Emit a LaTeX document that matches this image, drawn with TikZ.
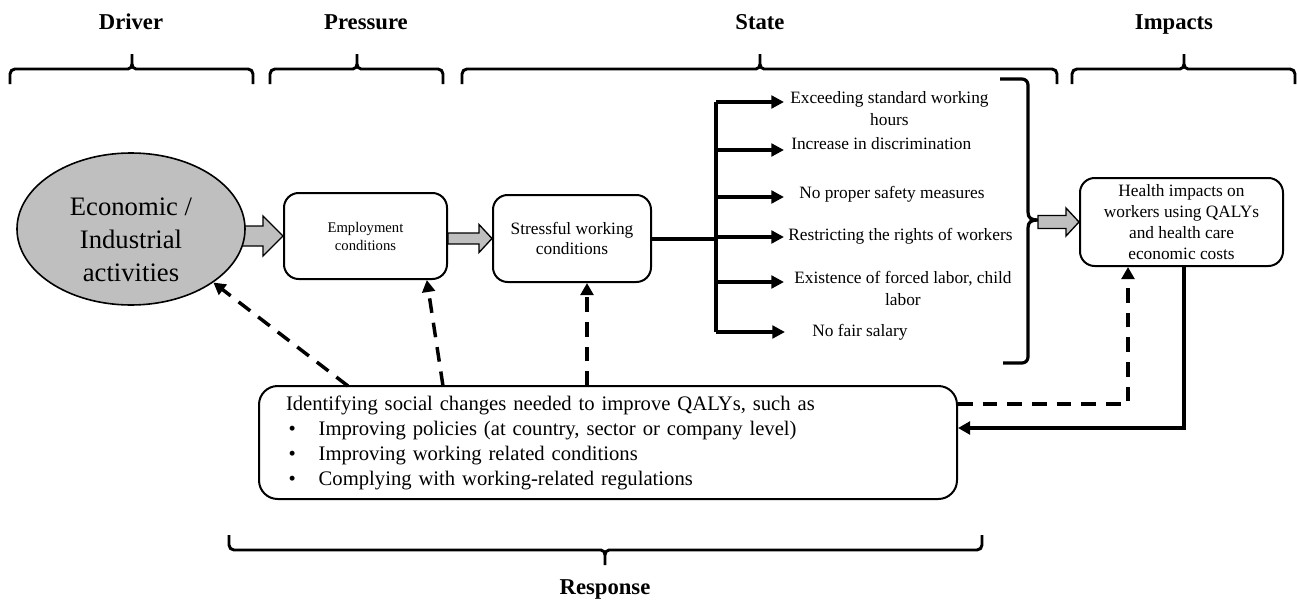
\documentclass[tikz,border=0pt]{standalone}
\usepackage{fontspec}
\setmainfont{Liberation Serif}
\usetikzlibrary{arrows.meta,shapes.geometric,calc,backgrounds}
\definecolor{blockgray}{HTML}{BFBFBF}

% gray block arrow: from, to, shaft half-height, head half-height, head length
\newcommand{\blockarrow}[5]{%
  \path[grayarr] let \p1=(#1), \p2=(#2) in
    (\x1,\y2+#3) -- (\x2-#5,\y2+#3) -- (\x2-#5,\y2+#4) -- (\x2,\y2)
    -- (\x2-#5,\y2-#4) -- (\x2-#5,\y2-#3) -- (\x1,\y2-#3) -- cycle;}
% brace opening downwards: left x, middle x, right x (ends at y=84, tip at y=54)
\newcommand{\topbrace}[3]{%
  \draw[bracestyle] (#1,84) -- (#1,74) to[out=90,in=180] ({#1+5},69)
    -- ({#2-4},69) to[out=0,in=-90] (#2,64) -- (#2,54)
    (#2,54) -- (#2,64) to[out=-90,in=180] ({#2+4},69)
    -- ({#3-5},69) to[out=0,in=90] (#3,74) -- (#3,84);}
% brace opening upwards: ends at y=535, tip at y=565
\newcommand{\bottombrace}[3]{%
  \draw[bracestyle] (#1,535) -- (#1,545) to[out=-90,in=180] ({#1+5},550)
    -- ({#2-4},550) to[out=0,in=90] (#2,555) -- (#2,565)
    (#2,565) -- (#2,555) to[out=90,in=180] ({#2+4},550)
    -- ({#3-5},550) to[out=0,in=-90] (#3,545) -- (#3,535);}
\newcommand{\bul}{\makebox[24.5pt][l]{\hspace{2pt}\textbullet}}

\begin{document}
\begin{tikzpicture}[x=0.75pt,y=-0.75pt,
  heading/.style={font=\fontsize{17}{20}\selectfont\bfseries,anchor=base},
  bracestyle/.style={line width=2.2pt},
  roundbox/.style={draw,line width=1.5pt,rounded corners=11pt,align=center,inner sep=2pt,fill=white},
  statetext/.style={font=\fontsize{13}{16.5}\selectfont,anchor=west,align=center,inner sep=0pt},
  busline/.style={line width=3pt},
  branch/.style={line width=3pt,-{Triangle[length=9.5pt,width=9.5pt]}},
  feedback/.style={line width=2.6pt,dash pattern=on 11pt off 7.5pt,-{Triangle[length=9pt,width=9.5pt]}},
  returnline/.style={line width=2.6pt,-{Triangle[length=9pt,width=9.5pt]}},
  grayarr/.style={draw,line width=1pt,fill=blockgray,line join=miter}
]
\useasboundingbox (0,0) rectangle (1297,603);

% ---- column headings and their braces ----
\node[heading] (hdriver) at (131,29) {Driver};
\node[heading] (hpressure) at (366,29) {Pressure};
\node[heading] (hstate) at (760,29) {State};
\node[heading] (himpacts) at (1174,29) {Impacts};
\node[heading] (hresponse) at (605,594) {Response};

\topbrace{10}{132}{253}
\topbrace{270}{357}{443}
\topbrace{462}{760}{1057}
\topbrace{1072}{1184}{1295}
\bottombrace{229}{605}{982}

% ---- main chain ----
\node[ellipse,draw,line width=1.2pt,fill=blockgray,minimum width=171pt,minimum height=114pt,inner sep=0pt] (eco) at (131,229) {};
\node[font=\fontsize{20}{24.75}\selectfont,align=center,yshift=-8.25pt] (ecolabel) at (eco.center) {Economic /\\Industrial\\activities};

\node[roundbox,minimum width=122.25pt,minimum height=64.5pt,font=\fontsize{11}{13.5}\selectfont] (emp) at (365.5,236) {Employment\\conditions};
\node[roundbox,minimum width=118.5pt,minimum height=65.25pt,font=\fontsize{13}{15}\selectfont] (stress) at (572,238.5) {Stressful working\\conditions};
\node[roundbox,minimum width=152.25pt,minimum height=66pt,font=\fontsize{13}{15.75}\selectfont] (imp) at (1181.5,222) {Health impacts on\\workers using QALYs\\and health care\\economic costs};

\begin{scope}[on background layer]
  \blockarrow{eco.center}{emp.west}{7.5pt}{15pt}{15pt}
\end{scope}
\blockarrow{emp.east}{stress.west}{4.1pt}{10.5pt}{9.75pt}

% ---- states ----
\node[statetext] (s1) at (790,109) {Exceeding standard working\\hours};
\node[statetext] (s2) at (791,144) {Increase in discrimination};
\node[statetext] (s3) at (799,194) {No proper safety measures};
\node[statetext] (s4) at (788,236) {Restricting the rights of workers};
\node[statetext] (s5) at (794,288.5) {Existence of forced labor, child\\labor};
\node[statetext] (s6) at (812,332) {No fair salary};

\coordinate (bustop) at (716,102);
\coordinate (busbot) at (716,332);
\coordinate (b1) at (784,102);
\coordinate (b2) at (784,150);
\coordinate (b3) at (784,197);
\coordinate (b4) at (784,237);
\coordinate (b5) at (784,282);
\coordinate (b6) at (785,332);

\draw[busline] (stress.east) -- (stress.east -| bustop);
\draw[busline] (bustop) -- (busbot);
\foreach \b in {b1,b2,b3,b4,b5,b6}
  \draw[branch] (\b -| bustop) -- (\b);

% closing bracket gathering the states
\coordinate (cusp) at (1038,220);
\draw[line width=2.4pt,line cap=butt]
  (1000,79) -- (1022,79) to[out=0,in=90] (1028,85) -- (1028,212)
  .. controls (1028,218) and (1031,220) .. (cusp)
  .. controls (1031,220) and (1028,222) .. (1028,228)
  -- (1028,357) to[out=-90,in=0] (1022,363) -- (1003,363);
\blockarrow{cusp}{imp.west}{4.9pt}{10.5pt}{9.75pt}

% ---- response ----
\node[roundbox,rounded corners=14pt,minimum width=523.5pt,minimum height=84.75pt,text width=483pt,align=left,inner xsep=20.25pt,font=\fontsize{15.5}{18.75}\selectfont] (resp) at (608,442.5)
  {Identifying social changes needed to improve QALYs, such as\\
   \bul Improving policies (at country, sector or company level)\\
   \bul Improving working related conditions\\
   \bul Complying with working-related regulations};

\coordinate (r1) at (348,386);
\coordinate (r2) at (443,386);
\coordinate (r3) at (587,386);
\draw[feedback] (r1) -- (eco.-33);
\draw[feedback] (r2) -- ([xshift=46pt]emp.south);
\draw[feedback] (r3) -- (r3 |- stress.south);

\coordinate (dcol) at (1128,404);
\coordinate (scol) at (1184,428);
\draw[feedback] (dcol -| resp.east) -- (dcol) -- (dcol |- imp.south);
\draw[returnline] (scol |- imp.south) -- (scol) -- (scol -| resp.east);
\end{tikzpicture}
\end{document}
